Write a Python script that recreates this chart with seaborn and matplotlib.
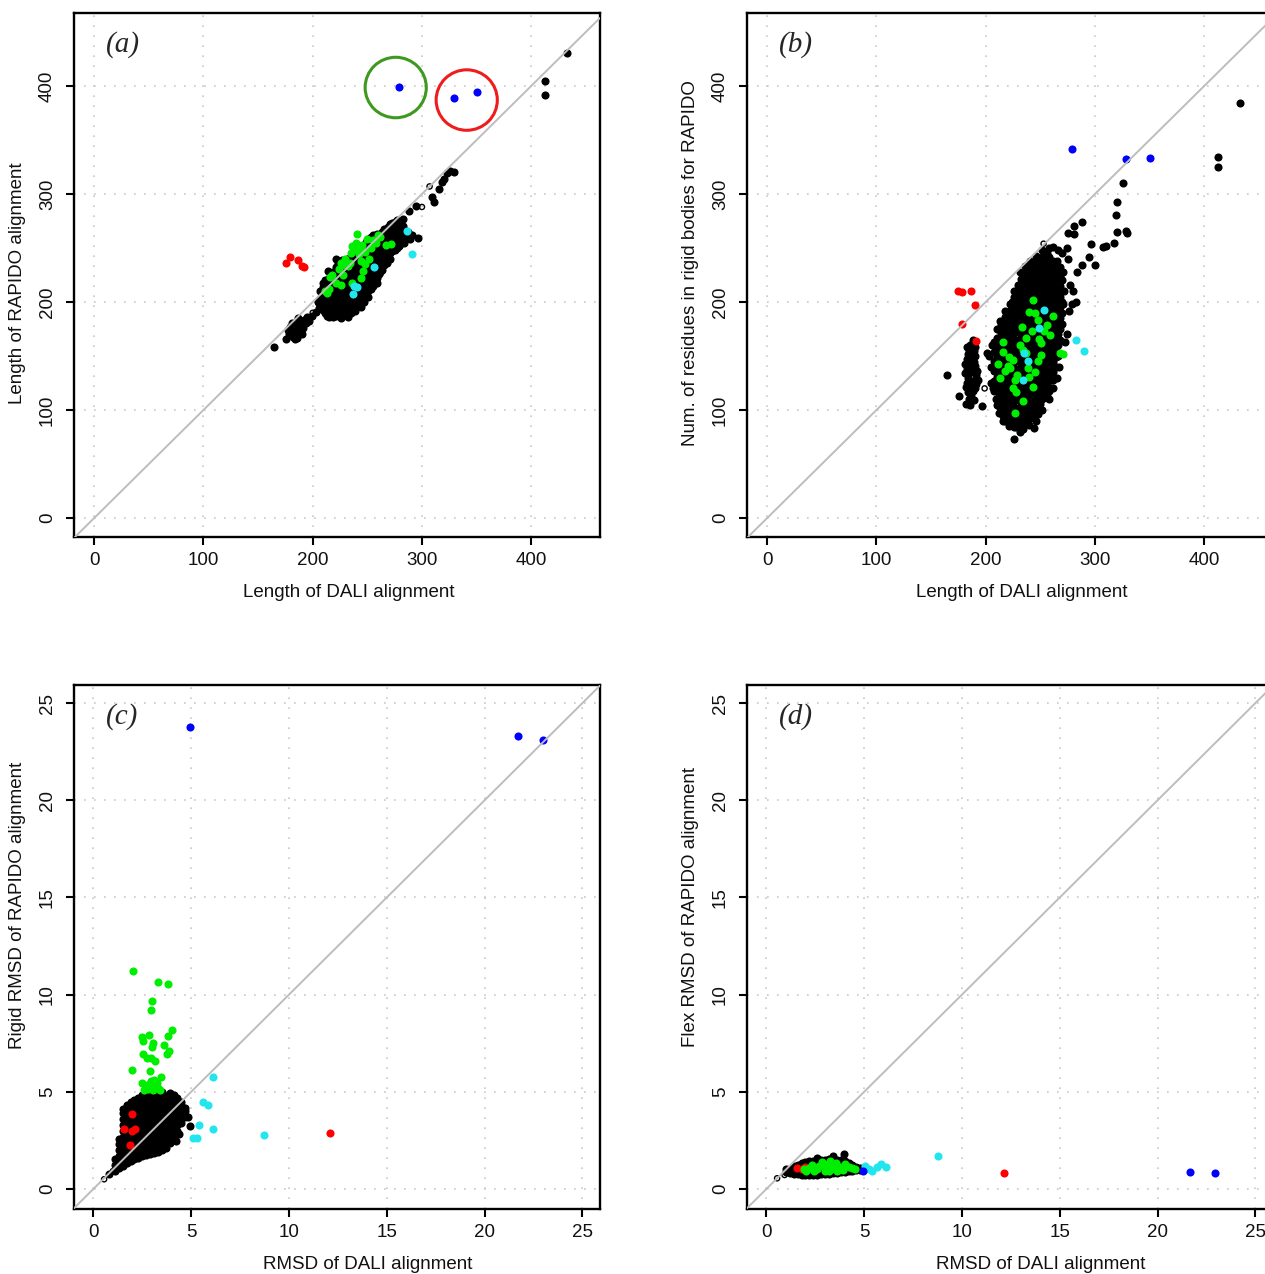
import matplotlib
matplotlib.use("Agg")
import matplotlib.pyplot as plt
import seaborn as sns
from matplotlib.patches import Ellipse

# ---------------- data ----------------
# Panel (a): Length of DALI alignment vs Length of RAPIDO alignment
a_black_cols = [
    (207, [196, 203, 210]),
    (209, [193, 200, 207, 214]),
    (211, [190, 198, 206, 213, 220]),
    (213, [187, 194, 201, 209, 217]),
    (215, [186, 193, 200, 207, 214, 222]),
    (217, [189, 196, 203, 210, 217, 225]),
    (219, [186, 192, 199, 206, 213, 220, 228]),
    (221, [187, 195, 202, 209, 216, 224, 232]),
    (223, [188, 195, 202, 209, 216, 223, 230, 236]),
    (225, [191, 199, 206, 213, 220, 227, 234]),
    (227, [190, 197, 204, 211, 218, 225, 232, 239]),
    (229, [188, 194, 201, 208, 215, 222, 229, 236]),
    (231, [191, 198, 205, 212, 219, 226, 233, 240]),
    (233, [192, 197, 204, 211, 218, 225, 232, 239]),
    (235, [190, 194, 201, 208, 215, 222, 229, 236, 243]),
    (237, [193, 199, 206, 213, 220, 227, 234, 241]),
    (239, [192, 197, 204, 211, 218, 225, 232, 239, 246]),
    (241, [195, 201, 208, 215, 222, 229, 236, 243, 249]),
    (243, [198, 205, 212, 219, 226, 233, 240, 247, 252]),
    (245, [201, 208, 215, 222, 229, 236, 243, 250]),
    (247, [204, 211, 218, 225, 232, 239, 246, 253]),
    (249, [207, 214, 221, 228, 235, 242, 249, 256]),
    (251, [210, 217, 224, 231, 238, 245, 252, 258]),
    (253, [212, 219, 226, 233, 240, 247, 254, 260]),
    (255, [215, 222, 229, 236, 243, 250, 257, 262]),
    (257, [218, 225, 232, 239, 246, 253, 260]),
    (259, [222, 229, 236, 243, 250, 257, 263]),
    (261, [226, 233, 240, 247, 254, 261]),
    (263, [230, 237, 244, 251, 258, 265]),
    (265, [234, 241, 248, 255, 262, 268]),
    (267, [238, 245, 252, 259, 266]),
    (269, [242, 249, 256, 263, 269]),
    (271, [245, 252, 259, 266, 272]),
    (273, [247, 254, 261, 268, 273]),
    (275, [248, 255, 262, 269, 274]),
    (277, [250, 257, 264, 271, 276]),
    (279, [252, 259, 266, 272]),
    (281, [255, 262, 268]),
    (283, [256, 263, 270]),
    (285, [258, 266]),
    (287, [260, 265]),
]
a_black_extra = [
    (165, 158), (176, 166), (178, 170), (180, 173), (182, 168), (183, 176), (185, 171),
    (186, 179), (188, 174), (189, 181), (191, 176), (192, 183), (179, 177), (184, 166),
    (187, 185), (190, 170), (194, 181), (195, 186), (177, 174), (181, 181), (186, 167),
    (197, 182), (183, 172), (188, 178), (199, 187), (203, 191), (206, 194), (216, 187),
    (296, 259), (291, 262), (286, 261), (275, 271), (283, 277), (288, 284), (295, 289),
    (309, 297), (311, 293), (316, 305), (318, 311), (320, 314), (323, 319), (326, 321),
    (329, 320), (413, 405), (413, 392), (433, 431),
    (253, 213), (262, 228), (268, 236), (279, 253), (284, 255), (289, 258), (244, 195),
    (232, 186), (226, 185), (247, 200), (259, 218), (214, 229), (209, 218), (205, 200),
    (221, 240), (251, 205), (271, 240),
]
a_open = [(307, 307), (300, 288), (200, 190)]
a_green = [
    (213, 208), (215, 212), (216, 223), (218, 225), (221, 218), (224, 231), (226, 236),
    (228, 225), (230, 240), (232, 233), (235, 245), (236, 252), (238, 248), (240, 255),
    (241, 263), (242, 244), (243, 250), (244, 238), (245, 253), (246, 229), (248, 246),
    (250, 258), (252, 240), (253, 250), (255, 257), (258, 255), (260, 262), (262, 260),
    (267, 253), (272, 254), (244, 222), (236, 218), (226, 216), (211, 210), (248, 235),
    (234, 236), (227, 234),
]
a_cyan = [(286, 266), (291, 244), (256, 232), (238, 215), (241, 214), (237, 207)]
a_red = [(176, 236), (179, 242), (187, 239), (190, 233), (192, 232)]
a_blue = [(279, 399), (329, 389), (350, 394)]
a_circle_green = (276, 398.6, 56)
a_circle_red = (341, 387, 56)

# Panel (b): Length of DALI alignment vs residues in rigid bodies
b_black_cols = [
    (208, [118, 127, 136, 145, 154, 163]),
    (210, [122, 131, 140, 149, 158, 167]),
    (212, [104, 113, 122, 131, 140, 149, 158, 167, 175]),
    (214, [99, 108, 117, 126, 135, 144, 153, 162, 171, 179]),
    (216, [94, 103, 112, 121, 130, 139, 148, 157, 166, 175, 182]),
    (218, [90, 99, 108, 117, 126, 135, 144, 153, 162, 171, 180, 186]),
    (220, [89, 98, 107, 116, 125, 134, 143, 152, 161, 170, 179, 188]),
    (222, [87, 94, 103, 112, 121, 130, 139, 148, 157, 166, 175, 184, 192]),
    (224, [86, 95, 104, 113, 122, 131, 140, 149, 158, 167, 176, 185, 194, 200]),
    (226, [84, 90, 99, 108, 117, 126, 135, 144, 153, 162, 171, 180, 189, 197, 205]),
    (228, [84, 93, 102, 111, 120, 129, 138, 147, 156, 165, 174, 183, 192, 201, 210]),
    (230, [85, 92, 101, 110, 119, 128, 137, 146, 155, 164, 173, 182, 191, 200, 209, 216]),
    (232, [87, 96, 105, 114, 123, 132, 141, 150, 159, 168, 177, 186, 195, 204, 213, 221]),
    (234, [88, 94, 103, 112, 121, 130, 139, 148, 157, 166, 175, 184, 193, 202, 211, 220, 225]),
    (236, [89, 98, 107, 116, 125, 134, 143, 152, 161, 170, 179, 188, 197, 206, 215, 226]),
    (238, [90, 96, 105, 114, 123, 132, 141, 150, 159, 168, 177, 186, 195, 204, 213, 222, 230]),
    (240, [92, 101, 110, 119, 128, 137, 146, 155, 164, 173, 182, 191, 200, 209, 218, 227, 232]),
    (242, [94, 101, 110, 119, 128, 137, 146, 155, 164, 173, 182, 191, 200, 209, 218, 227, 234]),
    (244, [97, 106, 115, 124, 133, 142, 151, 160, 169, 178, 187, 196, 205, 214, 223, 232, 237]),
    (246, [100, 110, 119, 128, 137, 146, 155, 164, 173, 182, 191, 200, 209, 218, 227, 235]),
    (248, [104, 113, 122, 131, 140, 149, 158, 167, 176, 185, 194, 203, 212, 221, 230, 238]),
    (250, [106, 117, 126, 135, 144, 153, 162, 171, 180, 189, 198, 207, 216, 225, 234, 240]),
    (252, [110, 119, 128, 137, 146, 155, 164, 173, 182, 191, 200, 209, 218, 227, 236, 242]),
    (254, [112, 122, 131, 140, 149, 158, 167, 176, 185, 194, 203, 212, 221, 230, 238, 243]),
    (256, [115, 124, 133, 142, 151, 160, 169, 178, 187, 196, 205, 214, 223, 232, 240, 245]),
    (258, [118, 128, 137, 146, 155, 164, 173, 182, 191, 200, 209, 218, 227, 236, 242]),
    (260, [120, 129, 138, 147, 156, 165, 174, 183, 192, 201, 210, 219, 228, 236]),
    (262, [128, 135, 144, 153, 162, 171, 180, 189, 198, 207, 216, 225, 233, 238]),
    (264, [140, 149, 158, 167, 176, 185, 194, 203, 212, 221, 230]),
    (266, [150, 160, 170, 180, 190, 200, 210, 220, 228]),
    (268, [165, 175, 185, 195, 205, 215, 224]),
    (270, [190, 200, 210, 220]),
]
b_black_extra = [
    (226, 73), (221, 85), (244, 83), (231, 80), (246, 90), (210, 105), (203, 150),
    (201, 153), (205, 125), (270, 180), (273, 163), (274, 170), (276, 192), (279, 198),
    (283, 200), (280, 210), (277, 216), (284, 228), (275, 240), (270, 245), (266, 248),
    (262, 251), (274, 250), (288, 234), (295, 242), (300, 234), (296, 254), (281, 263),
    (275, 264), (288, 274), (281, 270), (307, 251), (310, 252), (317, 255), (320, 265),
    (328, 266), (329, 264), (319, 281), (320, 293), (326, 310), (413, 334), (413, 325),
    (433, 384),
    (186, 160), (189, 155), (184, 152), (188, 148), (185, 144), (190, 141), (183, 138),
    (187, 135), (191, 132), (184, 130), (188, 127), (186, 123), (190, 120), (184, 117),
    (187, 113), (189, 109), (183, 125), (192, 136), (181, 134), (185, 156), (190, 150),
    (165, 132), (176, 113), (182, 106), (186, 105), (197, 104), (181, 143), (193, 128),
    (188, 165), (183, 147), (189, 144), (186, 139), (182, 121), (191, 124), (185, 110),
    (188, 118), (183, 158), (190, 158),
    (205, 140), (206, 160), (210, 175), (213, 182), (218, 192), (222, 198), (226, 210),
    (231, 228), (236, 233), (241, 238), (246, 243), (252, 248), (258, 250), (265, 238),
    (268, 232), (271, 228), (272, 210), (271, 198), (267, 140), (265, 130), (262, 120),
    (258, 110), (252, 100), (248, 96), (240, 86), (234, 82), (216, 90), (212, 97),
    (209, 110), (207, 120),
]
b_open = [(253, 254), (199, 120)]
b_green = [
    (243, 202), (240, 191), (248, 183), (262, 187), (233, 177), (242, 173), (237, 167),
    (253, 173), (259, 169), (249, 166), (216, 163), (251, 162), (216, 154), (234, 156),
    (237, 153), (251, 151), (225, 146), (248, 145), (211, 143), (222, 139), (239, 139),
    (213, 130), (227, 128), (240, 131), (245, 135), (225, 120), (243, 121), (228, 117),
    (234, 108), (227, 97), (268, 153), (271, 152), (220, 141), (218, 136), (231, 160),
    (256, 179), (245, 190), (229, 132), (221, 149),
]
b_cyan = [(253, 193), (249, 176), (235, 153), (239, 145), (234, 128), (283, 165), (290, 155)]
b_red = [(175, 210), (178, 209), (187, 210), (190, 197), (178, 180), (191, 164)]
b_blue = [(279, 342), (328, 332), (350, 333)]

# Panel (c): RMSD of DALI alignment vs Rigid RMSD of RAPIDO alignment
c_black_cols = [
    (1.1, [0.95, 1.25, 1.55]),
    (1.3, [1.1, 1.4, 1.7, 2.0, 2.3, 2.55]),
    (1.5, [1.2, 1.5, 1.8, 2.1, 2.4, 2.7, 3.0, 3.3, 3.6, 3.9, 4.1]),
    (1.7, [1.35, 1.65, 1.95, 2.25, 2.55, 2.85, 3.15, 3.45, 3.75, 4.05, 4.3]),
    (1.9, [1.45, 1.75, 2.05, 2.35, 2.65, 2.95, 3.25, 3.55, 3.85, 4.15, 4.45]),
    (2.1, [1.55, 1.85, 2.15, 2.45, 2.75, 3.05, 3.35, 3.65, 3.95, 4.25, 4.6]),
    (2.3, [1.6, 1.9, 2.2, 2.5, 2.8, 3.1, 3.4, 3.7, 4.0, 4.3, 4.7]),
    (2.5, [1.68, 1.98, 2.28, 2.58, 2.88, 3.18, 3.48, 3.78, 4.08, 4.38, 4.68, 4.85]),
    (2.7, [1.75, 2.05, 2.35, 2.65, 2.95, 3.25, 3.55, 3.85, 4.15, 4.45, 4.75, 4.95]),
    (2.9, [1.8, 2.1, 2.4, 2.7, 3.0, 3.3, 3.6, 3.9, 4.2, 4.5, 4.8, 5.0]),
    (3.1, [1.85, 2.15, 2.45, 2.75, 3.05, 3.35, 3.65, 3.95, 4.25, 4.55, 4.85, 5.0]),
    (3.3, [1.9, 2.2, 2.5, 2.8, 3.1, 3.4, 3.7, 4.0, 4.3, 4.6, 4.9]),
    (3.5, [2.0, 2.3, 2.6, 2.9, 3.2, 3.5, 3.8, 4.1, 4.4, 4.7, 5.0]),
    (3.7, [2.1, 2.4, 2.7, 3.0, 3.3, 3.6, 3.9, 4.2, 4.5, 4.8]),
    (3.9, [2.35, 2.65, 2.95, 3.25, 3.55, 3.85, 4.15, 4.45, 4.75, 4.95]),
    (4.1, [2.7, 3.0, 3.3, 3.6, 3.9, 4.2, 4.5, 4.85]),
    (4.3, [3.0, 3.3, 3.6, 3.9, 4.2, 4.5, 4.7]),
    (4.5, [3.4, 3.7, 4.0, 4.3, 4.5]),
    (4.7, [3.7, 4.0, 4.15]),
]
c_black_extra = [(4.95, 3.25), (4.85, 3.7), (4.4, 2.85), (4.2, 2.45), (0.8, 0.75)]
c_open = [(0.55, 0.5), (1.0, 0.92)]
c_green = [
    (2.01, 11.2), (3.29, 10.67), (3.79, 10.57), (2.99, 9.67), (2.94, 9.19), (4.04, 8.18),
    (3.8, 7.87), (2.47, 7.83), (2.85, 7.9), (2.56, 7.61), (3.07, 7.53), (2.99, 7.32),
    (3.62, 7.4), (3.89, 7.08), (3.75, 6.97), (2.56, 6.97), (2.73, 6.75), (2.94, 6.75),
    (3.17, 6.61), (1.96, 6.11), (2.9, 6.06), (3.46, 5.75), (2.48, 5.46), (2.7, 5.3),
    (2.85, 5.4), (3.0, 5.25), (3.15, 5.35), (3.3, 5.2), (2.8, 5.15), (3.05, 5.1),
    (3.25, 5.45), (2.6, 5.1), (3.4, 5.1), (2.95, 5.55), (3.1, 5.6),
]
c_cyan = [(6.1, 5.75), (5.6, 4.45), (5.85, 4.3), (5.4, 3.3), (6.1, 3.1), (5.1, 2.6),
          (5.3, 2.6), (8.7, 2.8)]
c_red = [(1.96, 3.88), (1.59, 3.11), (1.96, 3.0), (2.13, 3.09), (1.88, 2.28), (12.1, 2.9)]
c_blue = [(4.95, 23.77), (21.73, 23.3), (23.0, 23.1)]

# Panel (d): RMSD of DALI alignment vs Flex RMSD of RAPIDO alignment
d_black_cols = [
    (1.0, [0.85, 1.05]),
    (1.2, [0.8, 1.05]),
    (1.4, [0.78, 1.0, 1.2]),
    (1.6, [0.75, 0.98, 1.22]),
    (1.8, [0.74, 0.98, 1.22, 1.35]),
    (2.0, [0.73, 0.96, 1.2, 1.4]),
    (2.2, [0.73, 0.96, 1.2, 1.43]),
    (2.4, [0.72, 0.95, 1.18, 1.42]),
    (2.6, [0.74, 0.97, 1.2, 1.45]),
    (2.8, [0.75, 0.98, 1.22, 1.48]),
    (3.0, [0.76, 1.0, 1.25, 1.5]),
    (3.2, [0.77, 1.0, 1.25, 1.52]),
    (3.4, [0.8, 1.03, 1.28, 1.5]),
    (3.6, [0.82, 1.05, 1.3, 1.5]),
    (3.8, [0.85, 1.08, 1.3, 1.48]),
    (4.0, [0.88, 1.1, 1.3, 1.45]),
    (4.2, [0.92, 1.12, 1.32]),
    (4.4, [0.95, 1.12, 1.25]),
    (4.6, [0.98, 1.12]),
    (4.8, [1.0, 1.08]),
]
d_black_extra = [(3.95, 1.8), (3.4, 1.7), (2.6, 1.6)]
d_open = [(0.55, 0.55), (0.93, 0.72)]
d_green = [
    (1.9, 1.03), (2.84, 1.38), (3.1, 1.12), (3.44, 1.2), (3.78, 1.12), (4.03, 1.29),
    (3.27, 1.46), (2.59, 1.03), (2.42, 0.94), (3.6, 0.94), (2.2, 1.1), (2.7, 1.2),
    (3.0, 0.95), (3.3, 1.05), (3.9, 1.0), (4.2, 1.15), (4.4, 1.1), (2.95, 1.3),
    (3.55, 1.35), (2.35, 1.22), (2.05, 0.9), (4.55, 1.05), (3.2, 0.9),
]
d_cyan = [(5.05, 1.2), (5.39, 0.94), (5.65, 1.12), (5.87, 1.29), (6.12, 1.15),
          (5.25, 1.05), (8.76, 1.72)]
d_red = [(1.55, 1.1), (1.8, 1.05), (2.0, 1.0), (1.95, 1.15), (12.14, 0.82)]
d_blue = [(4.93, 0.94), (21.67, 0.86), (22.96, 0.82)]

len_ticks = [0, 100, 200, 300, 400]
rmsd_ticks = [0, 5, 10, 15, 20, 25]

COL = {"black": "black", "green": "#00ee00", "cyan": "#22e6ee", "red": "#ff0000", "blue": "#0000ff"}

# ---------------- drawing ----------------
sns.set_theme(style="white")
plt.rcParams["font.family"] = ["Liberation Sans", "DejaVu Sans"]

fig = plt.figure(figsize=(12.65, 12.74), dpi=100)
W, H = 526 / 1265, 524 / 1274
ax_a = fig.add_axes([74 / 1265, (1274 - 537) / 1274, W, H])
ax_b = fig.add_axes([747 / 1265, (1274 - 537) / 1274, W, H])
ax_c = fig.add_axes([74 / 1265, (1274 - 1209) / 1274, W, H])
ax_d = fig.add_axes([747 / 1265, (1274 - 1209) / 1274, W, H])


def expand(cols, extra):
    pts = [(x, y) for x, ys in cols for y in ys]
    return pts + list(extra)


def pts_scatter(ax, pts, color):
    sns.scatterplot(x=[p[0] for p in pts], y=[p[1] for p in pts], color=color,
                    s=34, linewidth=0, ax=ax, legend=False, zorder=3)


def style(ax, xlim, ylim, ticks, xlabel, ylabel, tag, xlab_pos, ylab_pos):
    ax.set_xlim(*xlim)
    ax.set_ylim(*ylim)
    ax.set_xticks(ticks)
    ax.set_yticks(ticks)
    ax.set_axisbelow(True)
    ax.grid(True, linestyle=(0, (1, 5)), color="#c8c8c8", linewidth=1.2)
    ax.axline((0, 0), slope=1, color="#bdbdbd", linewidth=1.4, zorder=4)
    for sp in ax.spines.values():
        sp.set_visible(True)
        sp.set_color("black")
        sp.set_linewidth(1.7)
    ax.tick_params(axis="both", which="both", direction="out", length=6, width=1.5,
                   color="black", labelsize=13.5, labelcolor="#111111",
                   bottom=True, left=True, top=False, right=False)
    ax.tick_params(axis="x", pad=5)
    ax.tick_params(axis="y", labelrotation=90, pad=7)
    for lab in ax.get_yticklabels():
        lab.set_va("center")
    ax.set_xlabel(xlabel, fontsize=13.5, color="#111111")
    ax.set_ylabel(ylabel, fontsize=13.5, color="#111111")
    ax.xaxis.set_label_coords(xlab_pos, -0.105)
    ax.yaxis.set_label_coords(-0.108, ylab_pos)
    ax.xaxis.label.set_va("center")
    ax.yaxis.label.set_va("center")
    ax.text(0.06, 0.939, tag, transform=ax.transAxes, ha="left", va="center",
            fontsize=21, fontstyle="italic", family=["Liberation Serif", "DejaVu Serif"])


def draw_panel(ax, black, opened, red, green, cyan, blue):
    pts_scatter(ax, black, COL["black"])
    ax.scatter([p[0] for p in opened], [p[1] for p in opened], s=14, facecolors="none",
               edgecolors="black", linewidths=1.0, zorder=3)
    pts_scatter(ax, red, COL["red"])
    pts_scatter(ax, green, COL["green"])
    pts_scatter(ax, cyan, COL["cyan"])
    pts_scatter(ax, blue, COL["blue"])


len_lim_x = (-18.5, 463)
len_lim_y = (-17.6, 467.6)
rmsd_lim_x = (-0.99, 25.9)
rmsd_lim_y = (-1.03, 25.93)

draw_panel(ax_a, expand(a_black_cols, a_black_extra), a_open, a_red, a_green, a_cyan, a_blue)
for cx, cy, d, c in [(*a_circle_green, "#3d9a1e"), (*a_circle_red, "#ee1c1c")]:
    ax_a.add_patch(Ellipse((cx, cy), d, d, fill=False, edgecolor=c, linewidth=2.2, zorder=5))
style(ax_a, len_lim_x, len_lim_y, len_ticks, "Length of DALI alignment",
      "Length of RAPIDO alignment", "(a)", 0.522, 0.485)

draw_panel(ax_b, expand(b_black_cols, b_black_extra), b_open, b_red, b_green, b_cyan, b_blue)
style(ax_b, len_lim_x, len_lim_y, len_ticks, "Length of DALI alignment",
      "Num. of residues in rigid bodies for RAPIDO", "(b)", 0.522, 0.523)

draw_panel(ax_c, expand(c_black_cols, c_black_extra), c_open, c_red, c_green, c_cyan, c_blue)
style(ax_c, rmsd_lim_x, rmsd_lim_y, rmsd_ticks, "RMSD of DALI alignment",
      "Rigid RMSD of RAPIDO alignment", "(c)", 0.558, 0.579)

draw_panel(ax_d, expand(d_black_cols, d_black_extra), d_open, d_red, d_green, d_cyan, d_blue)
style(ax_d, rmsd_lim_x, rmsd_lim_y, rmsd_ticks, "RMSD of DALI alignment",
      "Flex RMSD of RAPIDO alignment", "(d)", 0.558, 0.577)

fig.savefig("out.png", dpi=100, facecolor="white")
